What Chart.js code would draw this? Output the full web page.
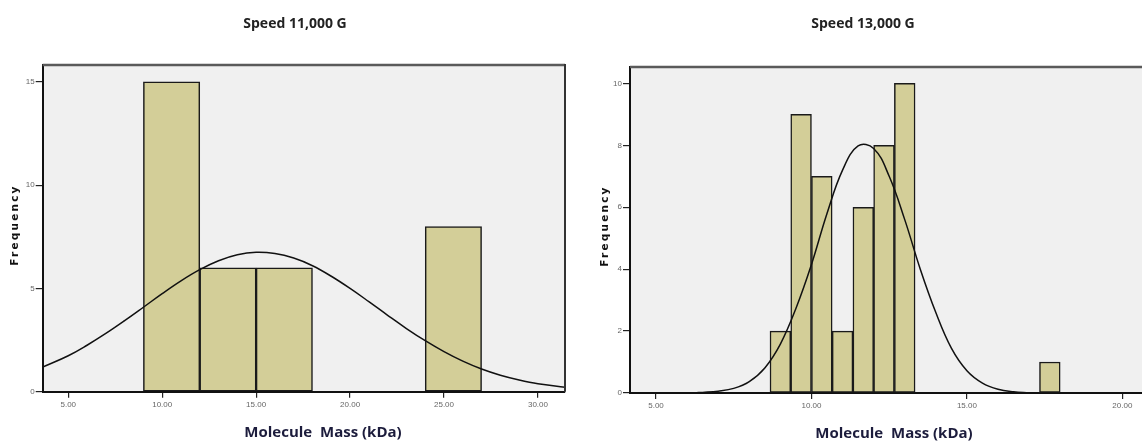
<!DOCTYPE html>
<html><head><meta charset="utf-8">
<script src="https://cdn.jsdelivr.net/npm/chart.js@4.4.0/dist/chart.umd.min.js"></script>
<style>
html,body{margin:0;padding:0;background:#fff;overflow:hidden;width:1142px;height:444px;position:relative;}
#c1{position:absolute;left:0;top:0;width:580px;height:444px;}
#c2{position:absolute;left:580px;top:0;width:600px;height:444px;}
</style></head><body>
<canvas id="c1" width="580" height="444"></canvas>
<canvas id="c2" width="600" height="444"></canvas>
<script>
// ---------- Data: Speed 11,000 G ----------
const leftBinCenters = [10.5, 13.5, 16.5, 25.5];
const leftCounts = [15, 6, 6, 8];
const leftCurveX = [3.64, 5, 6, 7, 8, 9, 10, 11, 12, 13, 14, 15, 16, 17, 18, 19, 20, 21, 22, 23, 24, 25, 26, 27, 28, 29, 30, 31.44];
const leftCurveY = [1.19, 1.74, 2.25, 2.82, 3.44, 4.09, 4.75, 5.37, 5.91, 6.34, 6.63, 6.75, 6.69, 6.47, 6.10, 5.59, 5.00, 4.36, 3.70, 3.06, 2.47, 1.94, 1.48, 1.10, 0.80, 0.57, 0.39, 0.22];
const leftXTicks = [5, 10, 15, 20, 25, 30];
const leftXTickLabels = ['5.00', '10.00', '15.00', '20.00', '25.00', '30.00'];
const leftYTicks = [0, 5, 10, 15];
const leftYTickLabels = ['0', '5', '10', '15'];

// ---------- Data: Speed 13,000 G ----------
const rightBinCenters = [9.0, 9.667, 10.333, 11.0, 11.667, 12.333, 13.0, 17.667];
const rightCounts = [2, 9, 7, 2, 6, 8, 10, 1];
const rightCurveX = [6.3, 6.5, 7, 7.5, 8, 8.5, 9, 9.5, 10, 10.5, 11, 11.5, 12, 12.5, 13, 13.5, 14, 14.5, 15, 15.5, 16, 16.5, 17];
const rightCurveY = [0.01, 0.02, 0.06, 0.15, 0.37, 0.81, 1.58, 2.73, 4.15, 5.8, 7.2, 7.98, 7.9, 7.0, 5.6, 4.0, 2.6, 1.45, 0.72, 0.32, 0.12, 0.04, 0.01];
const rightXTicks = [5, 10, 15, 20];
const rightXTickLabels = ['5.00', '10.00', '15.00', '20.00'];
const rightYTicks = [0, 2, 4, 6, 8, 10];
const rightYTickLabels = ['0', '2', '4', '6', '8', '10'];

const titles = ['Speed 11,000 G', 'Speed 13,000 G'];
const xTitle = 'Molecule  Mass (kDa)';
const yTitle = 'Frequency';

const decor = {
  id: 'decor',
  beforeDraw(chart, args, o) {
    const {ctx, chartArea: a} = chart;
    ctx.save();
    ctx.fillStyle = '#f0f0f0';
    ctx.fillRect(a.left, a.top, a.right - a.left, a.bottom - a.top);
    ctx.restore();
  },
  afterDraw(chart, args, o) {
    const {ctx, chartArea: a} = chart;
    ctx.save();
    ctx.strokeStyle = '#5a5a5a'; ctx.lineWidth = 2.5;
    ctx.beginPath(); ctx.moveTo(a.left, a.top); ctx.lineTo(a.right, a.top); ctx.stroke();
    if (o.rightBorder) {
      ctx.strokeStyle = '#333'; ctx.lineWidth = 2;
      ctx.beginPath(); ctx.moveTo(a.right, a.top - 1); ctx.lineTo(a.right, a.bottom); ctx.stroke();
    }
    ctx.textAlign = 'center'; ctx.textBaseline = 'middle';
    ctx.fillStyle = '#222';
    ctx.font = 'bold 14px "Open Sans"';
    ctx.fillText(o.title, o.titleX, o.titleY);
    ctx.fillStyle = '#1c1c3c';
    ctx.font = 'bold 15px "Open Sans"';
    ctx.fillText(o.xTitle, o.xTitleX, o.xTitleY);
    ctx.save();
    ctx.translate(o.yTitleX, o.yTitleY);
    ctx.rotate(-Math.PI / 2);
    ctx.fillStyle = '#111';
    ctx.font = 'bold 10.5px "DejaVu Sans"';
    try { ctx.letterSpacing = '2.2px'; } catch (e) {}
    ctx.fillText(o.yTitle, 0, 0);
    ctx.restore();
    ctx.restore();
  }
};

function makeChart(id, p) {
  const barData = p.centers.map((c, i) => ({x: c, y: p.counts[i]}));
  const curveData = p.curveX.map((x, i) => ({x: x, y: p.curveY[i]}));
  return new Chart(document.getElementById(id), {
    type: 'bar',
    data: {
      datasets: [
        {
          type: 'line', data: curveData, borderColor: '#111', borderWidth: 1.5,
          pointRadius: 0, tension: 0.4, fill: false, order: 1
        },
        {
          type: 'bar', data: barData, backgroundColor: 'rgb(211,206,152)',
          borderColor: '#1a1a1a', borderWidth: 1.5, borderSkipped: false,
          barPercentage: 1, categoryPercentage: 1, order: 2
        }
      ]
    },
    options: {
      responsive: false, animation: false, devicePixelRatio: 1,
      layout: {padding: {left: 0, top: p.top, right: p.right, bottom: 0}},
      plugins: {
        legend: {display: false}, tooltip: {enabled: false},
        decor: p.decor
      },
      scales: {
        x: {
          type: 'linear', min: p.xmin, max: p.xmax, offset: false,
          afterBuildTicks: s => { s.ticks = p.xTicks.map(v => ({value: v})); },
          afterFit: s => { s.height = p.xh; },
          ticks: {
            callback: v => p.xTickLabels[p.xTicks.indexOf(v)],
            font: {size: 8, family: 'Liberation Sans'}, color: '#666',
            padding: 2, maxRotation: 0, autoSkip: false
          },
          grid: {display: true, offset: false, drawOnChartArea: false, drawTicks: true, tickLength: 6, color: '#222', lineWidth: 1.2},
          border: {display: true, color: '#111', width: 2}
        },
        y: {
          type: 'linear', min: 0, max: p.ymax,
          afterBuildTicks: s => { s.ticks = p.yTicks.map(v => ({value: v})); },
          afterFit: s => { s.width = p.yw; },
          ticks: {
            callback: v => p.yTickLabels[p.yTicks.indexOf(v)],
            font: {size: 8, family: 'Liberation Sans'}, color: '#666',
            padding: 1, autoSkip: false
          },
          grid: {display: true, drawOnChartArea: false, drawTicks: true, tickLength: 7, color: '#222', lineWidth: 1.2},
          border: {display: true, color: '#111', width: 2}
        }
      }
    },
    plugins: [decor]
  });
}

makeChart('c1', {
  centers: leftBinCenters, counts: leftCounts, curveX: leftCurveX, curveY: leftCurveY,
  xTicks: leftXTicks, xTickLabels: leftXTickLabels, yTicks: leftYTicks, yTickLabels: leftYTickLabels,
  xmin: 3.64, xmax: 31.44, ymax: 15.82, top: 65, right: 15, xh: 52.3, yw: 42.7,
  decor: {rightBorder: true, title: titles[0], titleX: 295, titleY: 24,
          xTitle: xTitle, xTitleX: 323, xTitleY: 433, yTitle: yTitle, yTitleX: 15, yTitleY: 225}
});
makeChart('c2', {
  centers: rightBinCenters, counts: rightCounts, curveX: rightCurveX, curveY: rightCurveY,
  xTicks: rightXTicks, xTickLabels: rightXTickLabels, yTicks: rightYTicks, yTickLabels: rightYTickLabels,
  xmin: 4.164, xmax: 21.21, ymax: 10.53, top: 67, right: 20, xh: 51, yw: 50,
  decor: {rightBorder: false, title: titles[1], titleX: 283, titleY: 24,
          xTitle: xTitle, xTitleX: 314, xTitleY: 434, yTitle: yTitle, yTitleX: 25, yTitleY: 226}
});
</script>
</body></html>
